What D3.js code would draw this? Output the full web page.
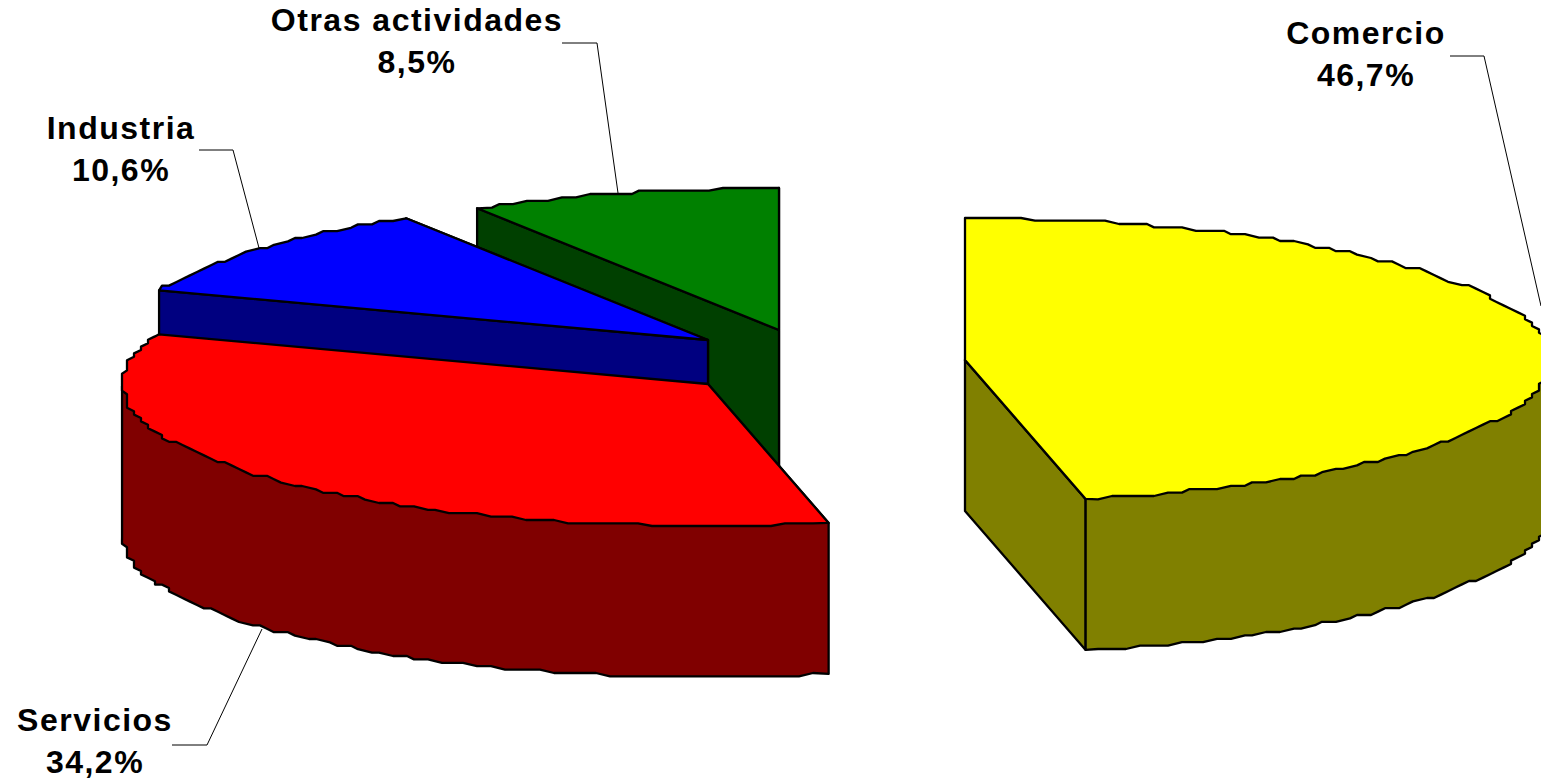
<!DOCTYPE html>
<html>
<head>
<meta charset="utf-8">
<script src="https://cdn.jsdelivr.net/npm/d3@7"></script>
<style>
  html, body { margin: 0; padding: 0; background: #fff; overflow: hidden; }
  svg { display: block; }
  .sliceLabel { font-family: "Liberation Sans", Arial, sans-serif; font-weight: bold; font-size: 32px; letter-spacing: 1.5px; text-anchor: middle; fill: #000; }
</style>
</head>
<body>
<div id="chart"></div>
<script>
// values
var categories = ["Comercio", "Servicios", "Industria", "Otras actividades"];
var shares = [46.7, 34.2, 10.6, 8.5];
var shareLabels = ["46,7%", "34,2%", "10,6%", "8,5%"];

var svgWidth = 1541;
var svgHeight = 780;

var topColors = ["#ffff00", "#ff0000", "#0000ff", "#008000"];
var wallColors = ["#808000", "#800000", "#000080", "#004000"];

// exploded slice centres, label anchors and leader lines
var layout = [
  { cx: 965, cy: 360, lx: 1366, ly: 44, leader: [[1450, 56], [1484, 56], [1541, 306]] },
  { cx: 708, cy: 384, lx: 95, ly: 731, leader: [[172, 745], [207, 745], [262, 629]] },
  { cx: 708, cy: 340, lx: 121, ly: 139, leader: [[199, 150], [233, 150], [259, 248]] },
  { cx: 779, cy: 330, lx: 417, ly: 31, leader: [[562, 43], [597, 43], [618, 193]] }
];

var rx = 586;
var ry = 142;
var depth = 151;
// the original outline is stepped, so snap the arc to a coarse grid
var snapX = 7;
var snapY = 3.4;

var svg = d3.select("#chart")
  .append("svg")
  .attr("width", svgWidth)
  .attr("height", svgHeight);

var pie = d3.pie().sort(null).startAngle(0).endAngle(2 * Math.PI);
var arcs = pie(shares);

var lineGen = d3.line();

// point on the rim, angle clockwise from 12 o'clock
// the left half is pulled back a little, the original projection does that too
function rim(a, c, drop) {
  var t = a > Math.PI ? a + 0.014 * Math.sin(a) : a;
  return [c.cx + rx * Math.sin(t), c.cy - ry * Math.cos(t) + drop];
}

// stepped outline between two angles
function rimPoints(a0, a1, c, drop) {
  var n = Math.max(2, Math.ceil(Math.abs(a1 - a0) / 0.024));
  var pts = d3.range(n + 1).map(function (i) {
    var a = a0 + (a1 - a0) * i / n;
    var p = rim(a, c, drop);
    if (i === 0 || i === n) return p;
    // never step past the true ellipse at its far ends
    var dx = Math.max(-rx, Math.min(rx, Math.round((p[0] - c.cx) / snapX) * snapX));
    var dy = Math.max(-ry, Math.min(ry + drop, Math.round((p[1] - c.cy) / snapY) * snapY));
    return [c.cx + dx, c.cy + dy];
  });
  return pts.filter(function (p, i) {
    return i === 0 || p[0] !== pts[i - 1][0] || p[1] !== pts[i - 1][1];
  });
}

function drawShape(g, pts, fill) {
  g.append("path")
    .attr("d", lineGen(pts) + "Z")
    .attr("fill", fill)
    .attr("stroke", "#000")
    .attr("stroke-width", 2.3)
    .attr("stroke-linejoin", "round");
}

// back slices first, the red one has to cover the walls behind it
var drawOrder = [3, 2, 1, 0];

drawOrder.forEach(function (i) {
  var d = arcs[i];
  var c = layout[i];
  var g = svg.append("g").attr("class", "slice");
  var centre = [c.cx, c.cy];
  var centreLow = [c.cx, c.cy + depth];

  // straight cut wall at the end angle, only when it looks towards the viewer
  if (d.endAngle < Math.PI || i === 2 || i === 3) {
    drawShape(g, [centre, rim(d.endAngle, c, 0), rim(d.endAngle, c, depth), centreLow], wallColors[i]);
  }
  if (i === 2 || i === 3) {
    drawShape(g, [centre, rim(d.startAngle, c, 0), rim(d.startAngle, c, depth), centreLow], wallColors[i]);
  }

  // outer wall, front half of the rim only, its top edge stays under the top face
  var a0 = Math.max(d.startAngle, Math.PI / 2);
  var a1 = Math.min(d.endAngle, 1.5 * Math.PI);
  if (a1 > a0) {
    var lower = rimPoints(a0, a1, c, depth);
    drawShape(g, [centre, rim(a0, c, 0)].concat(lower, [rim(a1, c, 0)]), wallColors[i]);
  }

  // top face
  drawShape(g, [centre].concat(rimPoints(d.startAngle, d.endAngle, c, 0)), topColors[i]);
});

// leader lines
svg.append("g")
  .selectAll("path")
  .data(layout)
  .enter()
  .append("path")
  .attr("d", function (c) { return lineGen(c.leader); })
  .attr("fill", "none")
  .attr("stroke", "#000")
  .attr("stroke-width", 1);

// labels
var labels = svg.append("g")
  .selectAll("text")
  .data(categories)
  .enter()
  .append("text")
  .attr("class", "sliceLabel");

labels.append("tspan")
  .attr("x", function (d, i) { return layout[i].lx; })
  .attr("y", function (d, i) { return layout[i].ly; })
  .text(function (d) { return d; });

labels.append("tspan")
  .attr("x", function (d, i) { return layout[i].lx; })
  .attr("y", function (d, i) { return layout[i].ly + 42; })
  .text(function (d, i) { return shareLabels[i]; });
</script>
</body>
</html>
